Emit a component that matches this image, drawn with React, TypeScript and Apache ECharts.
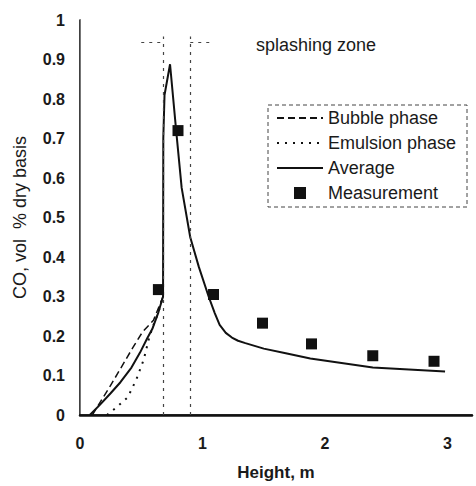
import React, { useEffect, useRef } from "react";
import * as echarts from "echarts";

// ---- data ----
const averageHeight = [0.08, 0.16, 0.25, 0.33, 0.42, 0.49, 0.55, 0.59, 0.64, 0.678, 0.68, 0.69, 0.735, 0.785, 0.83, 0.9, 0.97, 1.05, 1.1, 1.14, 1.19, 1.24, 1.29, 1.35, 1.5, 1.67, 1.88, 2.39, 2.98];
const averageCO = [0, 0.025, 0.055, 0.083, 0.12, 0.158, 0.195, 0.2175, 0.26, 0.3, 0.7, 0.81, 0.888, 0.72, 0.575, 0.45, 0.375, 0.3, 0.258, 0.228, 0.208, 0.196, 0.188, 0.182, 0.168, 0.157, 0.143, 0.12, 0.11];

const bubbleHeight = [0.1, 0.16, 0.25, 0.33, 0.43, 0.51, 0.6, 0.678];
const bubbleCO = [0, 0.03, 0.075, 0.117, 0.17, 0.21, 0.24, 0.3];

const emulsionHeight = [0.22, 0.3, 0.39, 0.46, 0.52, 0.56, 0.59, 0.64, 0.678];
const emulsionCO = [0, 0.02, 0.045, 0.09, 0.14, 0.19, 0.22, 0.26, 0.3];

const measHeight = [0.64, 0.8, 1.09, 1.49, 1.89, 2.39, 2.89];
const measCO = [0.3175, 0.72, 0.305, 0.2325, 0.18, 0.15, 0.136];

const zoneBounds = [0.678, 0.9];
const zoneTop = 0.958;
const arrowY = 0.9425;
const arrowLeft = [0.5, 0.678];
const arrowRight = [0.9, 1.08];

const yTicks = [0, 0.1, 0.2, 0.3, 0.4, 0.5, 0.6, 0.7, 0.8, 0.9, 1];
const xTicks = [0, 1, 2, 3];

const zip = (xs: number[], ys: number[]) => xs.map((x, i) => [x, ys[i]]);

const FONT = "Liberation Sans, Arial, sans-serif";

export default function App() {
  const ref = useRef<HTMLDivElement>(null);
  useEffect(() => {
    if (!ref.current) return;
    const chart = echarts.init(ref.current, undefined, { renderer: "svg" });
    const dotted = { color: "#444", width: 1.2, type: [3, 5] as number[] };
    const hideSym = { opacity: 0 };
    chart.setOption({
      animation: false,
      backgroundColor: "#fff",
      textStyle: { fontFamily: FONT },
      grid: { left: 80, top: 20, right: 4, bottom: 66, containLabel: false },
      xAxis: [
        {
          type: "value",
          min: 0,
          max: 3.2,
          interval: 1,
          name: "Height, m",
          nameLocation: "middle",
          nameGap: 49,
          nameTextStyle: { fontSize: 17, fontWeight: "bold", color: "#1a1a1a", fontFamily: FONT },
          axisLine: { show: true, lineStyle: { color: "#111", width: 1.6 } },
          axisTick: { show: false },
          splitLine: { show: false },
          axisLabel: {
            margin: 20,
            fontSize: 16,
            fontWeight: "bold",
            color: "#1a1a1a",
            fontFamily: FONT,
            showMaxLabel: false,
            formatter: (v: number) => (xTicks.includes(v) ? String(v) : ""),
          },
        },
        {
          type: "value",
          position: "top",
          min: 0,
          max: 3.2,
          axisLine: { show: true, lineStyle: { color: "#111", width: 2.5 } },
          axisTick: { show: false },
          axisLabel: { show: false },
          splitLine: { show: false },
        },
      ],
      yAxis: [
        {
          type: "value",
          min: 0,
          max: 1,
          interval: 0.1,
          name: "CO, vol  % dry basis",
          nameLocation: "middle",
          nameGap: 51,
          nameTextStyle: { fontSize: 18, color: "#1a1a1a", fontFamily: FONT },
          axisLine: { show: true, lineStyle: { color: "#111", width: 1.6 } },
          axisTick: { show: false },
          splitLine: { show: false },
          axisLabel: {
            margin: 15,
            fontSize: 16,
            fontWeight: "bold",
            color: "#1a1a1a",
            fontFamily: FONT,
            formatter: (v: number) => {
              const t = yTicks.find((k) => Math.abs(k - v) < 1e-6);
              return t === undefined ? "" : String(t);
            },
          },
        },
        {
          type: "value",
          position: "right",
          min: 0,
          max: 1,
          axisLine: { show: true, lineStyle: { color: "#777", width: 1 } },
          axisTick: { show: false },
          axisLabel: { show: false },
          splitLine: { show: false },
        },
      ],
      legend: {
        orient: "vertical",
        left: 276,
        top: 109,
        padding: 0,
        itemWidth: 46,
        itemHeight: 12,
        itemGap: 7,
        textStyle: { fontSize: 18, color: "#1a1a1a", fontFamily: FONT },
        data: [
          { name: "Bubble phase", itemStyle: hideSym },
          { name: "Emulsion phase", itemStyle: hideSym },
          { name: "Average", itemStyle: hideSym },
          { name: "Measurement", icon: "path://M0,0L10,0L10,10L0,10Z" },
        ],
      },
      graphic: [
        {
          type: "rect",
          shape: { x: 268, y: 105, width: 199, height: 102 },
          style: { fill: "none", stroke: "#444", lineWidth: 1, lineDash: [4, 3] },
          silent: true,
        },
        {
          type: "text",
          x: 256,
          y: 45,
          style: {
            text: "splashing zone",
            fontSize: 18,
            fontFamily: FONT,
            fill: "#1a1a1a",
            verticalAlign: "middle",
          },
        },
      ],
      series: [
        {
          name: "Bubble phase",
          type: "line",
          data: zip(bubbleHeight, bubbleCO),
          showSymbol: false,
          symbol: "none",
          lineStyle: { color: "#111", width: 1.5, type: [7, 4] },
          itemStyle: { color: "#111" },
          z: 3,
        },
        {
          name: "Emulsion phase",
          type: "line",
          data: zip(emulsionHeight, emulsionCO),
          showSymbol: false,
          symbol: "none",
          lineStyle: { color: "#111", width: 2, type: [2, 6] },
          itemStyle: { color: "#111" },
          z: 3,
        },
        {
          name: "Average",
          type: "line",
          data: zip(averageHeight, averageCO),
          showSymbol: false,
          symbol: "none",
          lineStyle: { color: "#111", width: 2 },
          itemStyle: { color: "#111" },
          z: 4,
        },
        {
          name: "Measurement",
          type: "scatter",
          data: zip(measHeight, measCO),
          symbol: "rect",
          symbolSize: 11,
          itemStyle: { color: "#111", opacity: 1 },
          z: 5,
        },
        {
          name: "zone",
          type: "line",
          data: [],
          symbol: "none",
          markLine: {
            silent: true,
            symbol: "none",
            label: { show: false },
            lineStyle: dotted,
            data: [
              ...zoneBounds.map((b) => [{ coord: [b, 0] }, { coord: [b, zoneTop] }]),
              [{ coord: [arrowLeft[0], arrowY] }, { coord: [arrowLeft[1], arrowY] }],
              [{ coord: [arrowRight[0], arrowY] }, { coord: [arrowRight[1], arrowY] }],
            ],
          },
        },
      ],
    });
    return () => chart.dispose();
  }, []);
  return (
    <div
      ref={ref}
      style={{ position: "absolute", left: 0, top: 0, width: 476, height: 486, overflow: "hidden" }}
    />
  );
}
